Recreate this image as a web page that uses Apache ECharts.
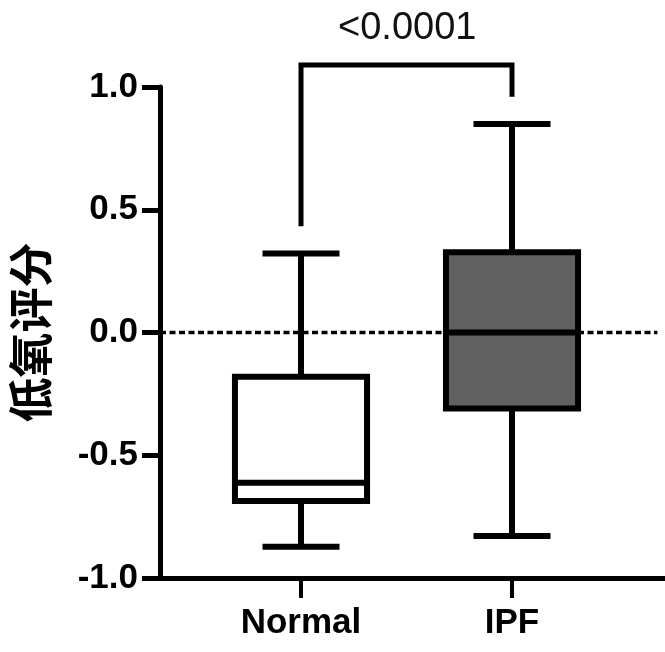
<!DOCTYPE html>
<html><head><meta charset="utf-8">
<script src="https://cdn.jsdelivr.net/npm/echarts@6/dist/echarts.min.js"></script>
<style>html,body{margin:0;padding:0;background:#fff}#c{width:665px;height:652px}</style>
</head><body><div id="c"></div>
<script>
// ---- data ----
const categories = ['Normal', 'IPF'];
const whiskerLow  = [-0.873, -0.829];
const q1          = [-0.686, -0.310];
const median      = [-0.612,  0.000];
const q3          = [-0.180,  0.327];
const whiskerHigh = [ 0.322,  0.849];
const yTickValues = [-1.0, -0.5, 0.0, 0.5, 1.0];
const referenceLevel = 0;
const bracketLeftBottom = 0.433;
const bracketTop = 1.09;
const bracketRightBottom = 0.96;
const pValueText = '<0.0001';
const yAxisTitle = '低氧评分';

// ---- styles ----
const boxFills = ['#ffffff', '#606060'];
const LW = 6;

const chart = echarts.init(document.getElementById('c'), null, {renderer: 'canvas'});

const boxData = categories.map((c, i) => [i, whiskerLow[i], q1[i], median[i], q3[i], whiskerHigh[i]]);
const bracketData = [
  [categories[0], bracketLeftBottom],
  [categories[0], bracketTop],
  [categories[1], bracketTop],
  [categories[1], bracketRightBottom]
];

function renderBox(params, api) {
  const i = api.value(0);
  const band = api.size([1, 0])[0];
  const bw = band * 0.626;
  const cw = band * 0.365;
  const pMin = api.coord([i, api.value(1)]);
  const pQ1 = api.coord([i, api.value(2)]);
  const pMed = api.coord([i, api.value(3)]);
  const pQ3 = api.coord([i, api.value(4)]);
  const pMax = api.coord([i, api.value(5)]);
  const x = pMin[0];
  const st = {stroke: '#000', lineWidth: LW, fill: null};
  return {
    type: 'group',
    children: [
      {type: 'line', shape: {x1: x, y1: pMax[1], x2: x, y2: pQ3[1]}, style: st},
      {type: 'line', shape: {x1: x, y1: pQ1[1], x2: x, y2: pMin[1]}, style: st},
      {type: 'line', shape: {x1: x - cw / 2, y1: pMax[1], x2: x + cw / 2, y2: pMax[1]}, style: st},
      {type: 'line', shape: {x1: x - cw / 2, y1: pMin[1], x2: x + cw / 2, y2: pMin[1]}, style: st},
      {type: 'rect', shape: {x: x - bw / 2, y: pQ3[1], width: bw, height: pQ1[1] - pQ3[1]},
        style: {stroke: '#000', lineWidth: LW, fill: boxFills[i]}},
      {type: 'line', shape: {x1: x - bw / 2, y1: pMed[1], x2: x + bw / 2 + 3, y2: pMed[1]}, style: st}
    ]
  };
}

const option = {
  animation: false,
  backgroundColor: '#fff',
  title: {
    text: pValueText, left: 333, top: 5,
    textStyle: {fontFamily: 'Liberation Sans', fontWeight: 'normal', fontSize: 38, color: '#111'}
  },
  grid: [
    {left: 160, right: 0, top: 87, bottom: 74},
    {left: 195.5, right: 47.5, top: 87, bottom: 74}
  ],
  xAxis: [
    {gridIndex: 0, type: 'value', min: 0, max: 1,
      axisLine: {show: true, onZero: false, lineStyle: {color: '#000', width: 5}},
      axisTick: {show: false}, axisLabel: {show: false}, splitLine: {show: false}},
    {gridIndex: 1, type: 'category', data: categories, boundaryGap: true,
      axisLine: {show: false, onZero: false},
      axisTick: {show: true, alignWithLabel: true, length: 20, lineStyle: {color: '#000', width: 4}},
      axisLabel: {margin: 28, color: '#000', fontFamily: 'Liberation Sans', fontWeight: 'bold', fontSize: 35},
      splitLine: {show: false}}
  ],
  yAxis: [
    {gridIndex: 0, type: 'value', min: yTickValues[0], max: yTickValues[yTickValues.length - 1], interval: 0.5,
      axisLine: {show: true, onZero: false, lineStyle: {color: '#000', width: 5}},
      axisTick: {show: true, inside: false, length: 18, lineStyle: {color: '#000', width: 5}},
      axisLabel: {margin: 22, color: '#000', fontFamily: 'Liberation Sans', fontWeight: 'bold', fontSize: 35,
        formatter: v => v.toFixed(1)},
      splitLine: {show: false},
      name: yAxisTitle, nameLocation: 'middle', nameGap: 107,
      nameTextStyle: {fontFamily: 'Noto Sans CJK SC', fontWeight: 'bold', fontSize: 45, color: '#000'}},
    {gridIndex: 1, type: 'value', min: yTickValues[0], max: yTickValues[yTickValues.length - 1], show: false,
      splitLine: {show: false}}
  ],
  series: [
    {type: 'line', xAxisIndex: 0, yAxisIndex: 0, symbol: 'none', silent: true,
      data: [[0, referenceLevel], [0.985, referenceLevel]],
      lineStyle: {color: '#000', width: 3.5, type: [6, 3.5]}, z: 1},
    {type: 'custom', xAxisIndex: 1, yAxisIndex: 1, renderItem: renderBox, data: boxData,
      encode: {x: 0, y: [1, 2, 3, 4, 5]}, clip: false, z: 3},
    {type: 'line', xAxisIndex: 1, yAxisIndex: 1, symbol: 'none', silent: true, clip: false,
      data: bracketData, lineStyle: {color: '#000', width: 5, join: 'miter'}, z: 3}
  ]
};
chart.setOption(option);
</script>
</body></html>
